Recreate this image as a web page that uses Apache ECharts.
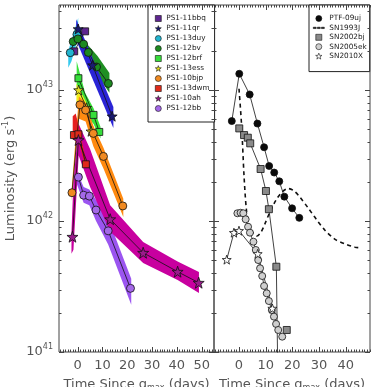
<!DOCTYPE html>
<html>
<head>
<meta charset="utf-8">
<script src="https://cdn.jsdelivr.net/npm/echarts@6/dist/echarts.min.js"></script>
<style>
  html, body { margin: 0; padding: 0; background: #fff; }
  #main { width: 372px; height: 387px; }
</style>
</head>
<body>
<div id="main"></div>
<script>
// all luminosities are log10(L / erg s^-1), days since g max

// left panel: PS1 objects
var bbqDay = [-1.4, 3.0], bbqLog = [43.295, 43.448];
var qrDay = [0.2, 6.0, 13.9], qrLog = [43.466, 43.19, 42.80];
var duyDay = [-3.0, -0.3], duyLog = [43.285, 43.425];
var bvDay = [-1.8, 0.1, 2.4, 4.3, 7.6, 12.4], bvLog = [43.37, 43.39, 43.35, 43.287, 43.176, 43.05];
var brfDay = [0.3, 6.4, 8.7], brfLog = [43.09, 42.81, 42.68];
var essDay = [0.4, 3.6, 5.4], essLog = [43.0, 42.865, 42.685];
var bjpDay = [-2.3, 0.9, 3.2, 6.3, 10.4, 18.2], bjpLog = [42.216, 42.887, 42.847, 42.669, 42.493, 42.115];
var dwmDay = [-1.5, 0.3, 3.3], dwmLog = [42.656, 42.662, 42.433];
var ahDay = [-2.1, 0.3, 13.1, 26.4, 40.3, 48.8], ahLog = [41.88, 42.618, 42.014, 41.758, 41.613, 41.529];
var bbDay = [0.3, 2.4, 4.7, 7.4, 12.3, 21.3], bbLog = [42.335, 42.197, 42.19, 42.084, 41.925, 41.486];

// uncertainty bands (upper / lower)
var qrBandDay = [-0.6, 14.4], qrBandHi = [43.54, 42.87], qrBandLo = [43.38, 42.71];
var bvBandDay = [-2, 0, 4.3, 8, 12.8], bvBandHi = [43.40, 43.43, 43.34, 43.26, 43.13], bvBandLo = [43.33, 43.36, 43.24, 43.11, 42.98];
var duyBandDay = [-3.8, -2.5, 0.2], duyBandHi = [43.30, 43.38, 43.55], duyBandLo = [43.17, 43.22, 43.40];
var brfBandDay = [-0.4, 3, 6.4, 9.2], brfBandHi = [43.22, 42.98, 42.86, 42.72], brfBandLo = [43.0, 42.82, 42.74, 42.63];
var essBandDay = [-0.5, 3.6, 5.8], essBandHi = [43.05, 42.9, 42.72], essBandLo = [42.9, 42.8, 42.63];
var bjpBandDay = [-2.4, 0.5, 3.2, 6.3, 10.4, 18.4], bjpBandHi = [42.25, 42.95, 42.9, 42.73, 42.56, 42.17], bjpBandLo = [42.15, 42.78, 42.76, 42.57, 42.40, 42.03];
var dwmBandDay = [-2, -0.8, 0.5, 3.3], dwmBandHi = [42.8, 42.82, 42.72, 42.47], dwmBandLo = [42.62, 42.62, 42.6, 42.40];
var ahBandDay = [-2.5, -1.7, 0.4, 5, 13.1, 26.4, 40.3, 48.9];
var ahBandHi = [41.92, 42.3, 42.74, 42.55, 42.12, 41.84, 41.69, 41.61];
var ahBandLo = [41.75, 41.78, 42.5, 42.26, 41.92, 41.68, 41.55, 41.45];
var bbBandDay = [-0.3, 2.4, 4.7, 7.4, 12.3, 21.6], bbBandHi = [42.38, 42.26, 42.24, 42.16, 42.02, 41.56], bbBandLo = [42.28, 42.14, 42.12, 42.0, 41.82, 41.36];

// right panel: comparison objects
var ptfDay = [-2.7, 0.1, 4.0, 6.9, 9.4, 11.3, 13.2, 15.1, 17.0, 19.9, 22.6];
var ptfLog = [42.763, 43.124, 42.966, 42.744, 42.563, 42.42, 42.37, 42.303, 42.186, 42.097, 42.024];
var n93jDay = [0, 1.0, 1.9, 2.8, 3.75, 5.25, 6.75, 8.25, 9.75, 11.6, 13.9, 16.1, 18.4, 20.6, 22.9, 25.9, 28.9, 32.2, 36.0, 39.7, 43.5, 46.0];
var n93jLog = [43.01, 42.72, 42.34, 42.08, 41.97, 41.91, 41.885, 41.915, 41.98, 42.07, 42.16, 42.22, 42.248, 42.23, 42.18, 42.10, 42.015, 41.93, 41.86, 41.825, 41.80, 41.795];
var n02bjDay = [0.1, 1.9, 3.3, 4.2, 8.1, 10.1, 11.2, 14.0, 14.5];
var n02bjLog = [42.707, 42.656, 42.636, 42.593, 42.397, 42.229, 42.09, 41.651, 40.9];
var n02bjLateDay = [17.9], n02bjLateLog = [41.168];
var n05ekDay = [-0.6, 0.6, 1.6, 2.5, 3.4, 4.1, 5.4, 6.3, 7.2, 7.9, 8.7, 9.4, 10.4, 11.2, 12.3, 13.1, 13.9, 14.7, 16.2];
var n05ekLog = [42.059, 42.063, 42.059, 42.013, 41.956, 41.911, 41.842, 41.779, 41.702, 41.639, 41.58, 41.504, 41.448, 41.389, 41.32, 41.27, 41.214, 41.168, 41.117];
var n10xDay = [-4.6, -1.9, 0, 7.0, 12.5], n10xLog = [41.705, 41.911, 41.926, 41.75, 41.333];

var leftTicks = [0, 10, 20, 30, 40, 50];
var rightTicks = [0, 10, 20, 30, 40];
var yTicks = [1e41, 1e42, 1e43];

var STAR = 'path://M0,-10L2.35,-3.24L9.51,-3.09L3.8,1.24L5.88,8.09L0,4L-5.88,8.09L-3.8,1.24L-9.51,-3.09L-2.35,-3.24Z';
var SQUARE = 'path://M0,0H10V10H0Z';
var DASH = 'path://M0,0H3.5V1.6H0Z M5,0H8.5V1.6H5Z M10,0H13.5V1.6H10Z';
var FONT = 'DejaVu Sans';
var GREY = '#555';
var yMin = 1e41, yMax = Math.pow(10, 43.649);
var xLim = [[-7.53, 54.97], [-9.37, 49.1]];

function pts(d, l) {
  return d.map(function (x, i) { return [x, Math.pow(10, l[i])]; });
}

function range(a, b, s) {
  var r = [];
  for (var v = a; v <= b + 1e-9; v += s) r.push(Math.round(v * 100) / 100);
  return r;
}

var yMinor = [];
[41, 42, 43].forEach(function (e) {
  for (var k = 2; k <= 9; k++) yMinor.push(k * Math.pow(10, e));
});

// inward ticks on all four sides of a panel, placed through the panel's own axes
function ticks(grid, xMajor) {
  var xMinor = range(Math.ceil(xLim[grid][0]), Math.floor(xLim[grid][1]), 1);
  var items = [], kind = [];
  xMinor.forEach(function (v) { items.push([v, 1e42]); kind.push(xMajor.indexOf(v) >= 0 ? 0 : 1); });
  yTicks.forEach(function (v) { items.push([0, v]); kind.push(2); });
  yMinor.forEach(function (v) { if (v < yMax) { items.push([0, v]); kind.push(3); } });
  return {
    type: 'custom', xAxisIndex: grid, yAxisIndex: grid, z: 5, silent: true, clip: false,
    data: items,
    renderItem: function (params, api) {
      var cs = params.coordSys, k = kind[params.dataIndex];
      var len = (k === 0 || k === 2) ? 5 : 2.5;
      var st = {stroke: '#444', lineWidth: 1};
      if (k < 2) {
        var x = Math.round(api.coord([api.value(0), 1e42])[0]) + 0.5;
        var b = cs.y + cs.height;
        return {type: 'group', children: [
          {type: 'line', shape: {x1: x, y1: b, x2: x, y2: b - len}, style: st},
          {type: 'line', shape: {x1: x, y1: cs.y, x2: x, y2: cs.y + len}, style: st}
        ]};
      }
      var y = Math.round(api.coord([0, api.value(1)])[1]) + 0.5;
      var r = cs.x + cs.width;
      return {type: 'group', children: [
        {type: 'line', shape: {x1: cs.x, y1: y, x2: cs.x + len, y2: y}, style: st},
        {type: 'line', shape: {x1: r, y1: y, x2: r - len, y2: y}, style: st}
      ]};
    }
  };
}

function xAxis(grid, labels) {
  return {
    type: 'value', gridIndex: grid, position: 'bottom', min: xLim[grid][0], max: xLim[grid][1],
    axisLine: {show: false}, splitLine: {show: false}, axisTick: {show: false},
    axisLabel: {show: true, customValues: labels, margin: 7, color: GREY, fontSize: 13, fontFamily: FONT},
    name: 'Time Since g{s|max} (days)',
    nameLocation: 'middle', nameGap: 8,
    nameTextStyle: {
      color: GREY, fontSize: 13, fontFamily: FONT, lineHeight: 15,
      rich: {s: {fontSize: 8, fontFamily: FONT, color: GREY, lineHeight: 8, padding: [7, 0, 0, 0]}}
    }
  };
}

function yAxis(grid, labelled) {
  return {
    type: 'log', logBase: 10, gridIndex: grid, position: 'left', min: yMin, max: yMax,
    axisLine: {show: false}, splitLine: {show: false}, axisTick: {show: false},
    axisLabel: labelled ? {
      show: true, customValues: yTicks, margin: 6, color: GREY, fontSize: 13, fontFamily: FONT,
      formatter: function (v) { return '10{s|' + Math.round(Math.log10(v)) + '}'; },
      rich: {s: {fontSize: 8, fontFamily: FONT, color: GREY, lineHeight: 8, padding: [0, 0, 10, 0]}}
    } : {show: false},
    name: labelled ? 'Luminosity (erg s{s|-1})' : '',
    nameLocation: 'middle', nameGap: 40,
    nameTextStyle: {
      color: GREY, fontSize: 13, fontFamily: FONT, lineHeight: 17,
      rich: {s: {fontSize: 8, fontFamily: FONT, color: GREY, lineHeight: 8, padding: [0, 0, 9, 0]}}
    }
  };
}

function band(day, hi, lo, color) {
  var rows = day.map(function (d, i) { return [d, Math.pow(10, hi[i]), Math.pow(10, lo[i])]; });
  return {
    type: 'custom', xAxisIndex: 0, yAxisIndex: 0, z: 1, silent: true, clip: true,
    data: rows,
    renderItem: function (params, api) {
      if (params.dataIndex !== 0) return;
      var p = [];
      rows.forEach(function (r) { p.push(api.coord([r[0], r[1]])); });
      for (var i = rows.length - 1; i >= 0; i--) p.push(api.coord([rows[i][0], rows[i][2]]));
      return {type: 'polygon', shape: {points: p}, style: {fill: color, stroke: null}};
    }
  };
}

function curve(name, day, lg, grid, sym, size, color, extra) {
  var s = {
    name: name, type: 'line', xAxisIndex: grid, yAxisIndex: grid,
    data: pts(day, lg), symbol: sym, symbolSize: size, showAllSymbol: true,
    itemStyle: {color: color, borderColor: '#111', borderWidth: 0.8},
    lineStyle: {color: '#111', width: 0.8},
    z: 3, silent: true
  };
  if (extra) for (var k in extra) s[k] = extra[k];
  return s;
}

var series = [
  band(duyBandDay, duyBandHi, duyBandLo, '#35c9ee'),
  band(bvBandDay, bvBandHi, bvBandLo, '#1f8f23'),
  band(qrBandDay, qrBandHi, qrBandLo, '#2a24d6'),
  band(brfBandDay, brfBandHi, brfBandLo, '#3ae23a'),
  band(essBandDay, essBandHi, essBandLo, '#f2ee1c'),
  band(bjpBandDay, bjpBandHi, bjpBandLo, '#ff8a10'),
  band(bbBandDay, bbBandHi, bbBandLo, '#9b55f0'),
  band(ahBandDay, ahBandHi, ahBandLo, '#c8009f'),
  band(dwmBandDay, dwmBandHi, dwmBandLo, '#e52020'),

  curve('PS1-11bbq', bbqDay, bbqLog, 0, 'rect', 7, '#5e2590'),
  curve('PS1-13duy', duyDay, duyLog, 0, 'circle', 8, '#22b5d0'),
  curve('PS1-12bv', bvDay, bvLog, 0, 'circle', 8, '#1d8a20'),
  curve('PS1-11qr', qrDay, qrLog, 0, STAR, 10, '#1a1a70'),
  curve('PS1-12brf', brfDay, brfLog, 0, 'rect', 7, '#36dd3a'),
  curve('PS1-13ess', essDay, essLog, 0, STAR, 10, '#e8e020'),
  curve('PS1-10bjp', bjpDay, bjpLog, 0, 'circle', 8, '#f08a22'),
  curve('PS1-13dwm', dwmDay, dwmLog, 0, 'rect', 7, '#e02a1a'),
  curve('PS1-10ah', ahDay, ahLog, 0, STAR, 11, '#9a1a8c'),
  curve('PS1-12bb', bbDay, bbLog, 0, 'circle', 8, '#a468e8'),

  curve('SN1993J', n93jDay, n93jLog, 1, 'none', 0, '#111', {
    lineStyle: {color: '#111', width: 1.6, type: [4, 3.5]}, smooth: 0.3
  }),
  curve('SN2002bj', n02bjDay, n02bjLog, 1, 'rect', 7, '#8a8a8a'),
  curve('SN2002bj', n02bjLateDay, n02bjLateLog, 1, 'rect', 7, '#8a8a8a'),
  curve('SN2005ek', n05ekDay, n05ekLog, 1, 'circle', 7, '#cfcfcf'),
  curve('SN2010X', n10xDay, n10xLog, 1, STAR, 9, '#ffffff'),
  curve('PTF-09uj', ptfDay, ptfLog, 1, 'circle', 7, '#0a0a0a'),

  ticks(0, leftTicks),
  ticks(1, rightTicks)
];

var legendText = {color: '#222', fontSize: 7.3, fontFamily: FONT, lineHeight: 7};
var legendItem = {borderWidth: 0.6};

var option = {
  animation: false,
  backgroundColor: '#fff',
  grid: [
    {left: 59, top: 5, width: 155, height: 347, show: true, borderColor: '#444', borderWidth: 1, outerBoundsMode: 'none'},
    {left: 214, top: 5, width: 156, height: 347, show: true, borderColor: '#444', borderWidth: 1, outerBoundsMode: 'none'}
  ],
  xAxis: [xAxis(0, leftTicks), xAxis(1, rightTicks)],
  yAxis: [yAxis(0, true), yAxis(1, false)],
  legend: [{
    left: 148, top: 5, orient: 'vertical', itemWidth: 6, itemHeight: 6, itemGap: 3,
    padding: [10, 5, 10, 7], borderColor: '#222', borderWidth: 1, backgroundColor: '#fff',
    textStyle: legendText, itemStyle: legendItem, selectedMode: false,
    data: [
      {name: 'PS1-11bbq', icon: SQUARE}, {name: 'PS1-11qr', icon: STAR},
      {name: 'PS1-13duy', icon: 'circle'}, {name: 'PS1-12bv', icon: 'circle'},
      {name: 'PS1-12brf', icon: SQUARE}, {name: 'PS1-13ess', icon: STAR},
      {name: 'PS1-10bjp', icon: 'circle'}, {name: 'PS1-13dwm', icon: SQUARE},
      {name: 'PS1-10ah', icon: STAR}, {name: 'PS1-12bb', icon: 'circle'}
    ]
  }, {
    left: 309, top: 5, orient: 'vertical', itemWidth: 11, itemHeight: 6, itemGap: 2.4,
    padding: [10, 3, 12, 4], borderColor: '#222', borderWidth: 1, backgroundColor: '#fff',
    textStyle: legendText, itemStyle: legendItem, selectedMode: false,
    data: [
      {name: 'PTF-09uj', icon: 'circle'}, {name: 'SN1993J', icon: DASH},
      {name: 'SN2002bj', icon: SQUARE}, {name: 'SN2005ek', icon: 'circle'},
      {name: 'SN2010X', icon: STAR}
    ]
  }],
  series: series
};

var chart = echarts.init(document.getElementById('main'), null, {renderer: 'canvas'});
chart.setOption(option);
</script>
</body>
</html>
